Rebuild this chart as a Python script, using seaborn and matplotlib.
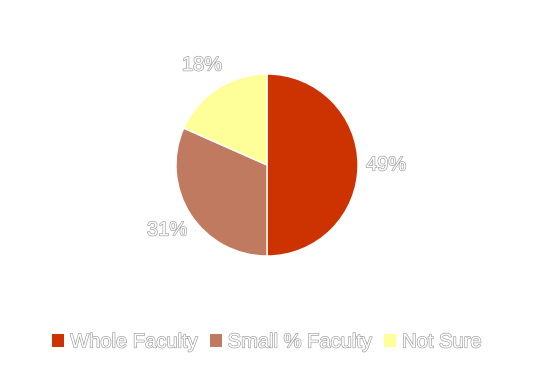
import matplotlib
matplotlib.use("Agg")
import matplotlib.pyplot as plt
import matplotlib.patheffects as pe
import seaborn as sns

categories = ["Whole Faculty", "Small % Faculty", "Not Sure"]
values = [49, 31, 18]
pct_labels = ["49%", "31%", "18%"]
colors = ["#CC3300", "#C07A60", "#FFFF99"]

sns.set_theme(style="white")
plt.rcParams["font.family"] = ["Liberation Sans", "DejaVu Sans"]

W, H = 534, 366
fig = plt.figure(figsize=(W / 100, H / 100), dpi=100)
fig.patch.set_facecolor("white")

cx, cy, r = 267, 165, 91
ax = fig.add_axes([(cx - r) / W, (H - cy - r) / H, 2 * r / W, 2 * r / H])

outline = [pe.Stroke(linewidth=0.9, foreground="#9a9a9a"), pe.Normal()]

wedges, texts = ax.pie(
    values,
    labels=pct_labels,
    colors=sns.color_palette(colors),
    startangle=90,
    counterclock=False,
    labeldistance=1.31,
    wedgeprops=dict(edgecolor="white", linewidth=1.0),
    textprops=dict(fontsize=14.5, color="white"),
)
for t in texts:
    t.set_horizontalalignment("center")
    t.set_verticalalignment("center")
    t.set_path_effects(outline)

ax.set_xlim(-1, 1)
ax.set_ylim(-1, 1)
ax.set_aspect("equal")
ax.axis("off")

leg = fig.legend(
    wedges,
    categories,
    loc="center",
    bbox_to_anchor=(0.5, (H - 342) / H),
    ncol=3,
    frameon=False,
    fontsize=14.5,
    handlelength=0.58,
    handleheight=0.58,
    handletextpad=0.3,
    columnspacing=0.6,
)
for t in leg.get_texts():
    t.set_color("white")
    t.set_path_effects(outline)
for h in leg.legend_handles:
    h.set_edgecolor("none")

fig.savefig("out.png", dpi=100, facecolor="white")
